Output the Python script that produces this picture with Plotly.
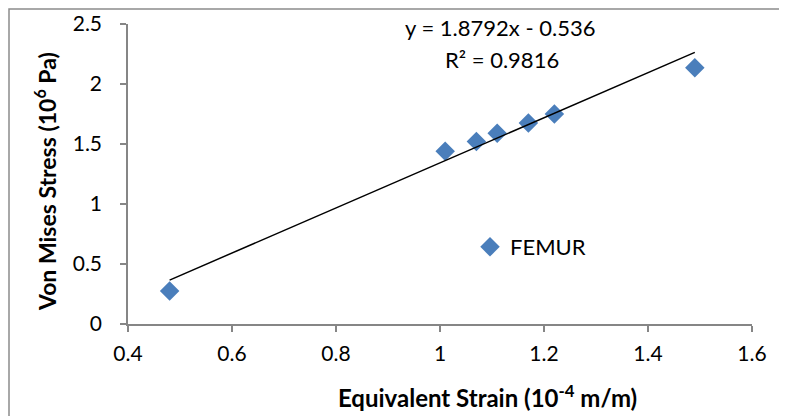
import plotly.graph_objects as go

strain = [0.48, 1.01, 1.07, 1.11, 1.17, 1.22, 1.49]
stress = [0.275, 1.44, 1.52, 1.59, 1.675, 1.75, 2.135]
series_name = "FEMUR"
slope, intercept, r2 = 1.8792, -0.536, 0.9816
x_ticks = [0.4, 0.6, 0.8, 1.0, 1.2, 1.4, 1.6]
y_ticks = [0, 0.5, 1, 1.5, 2, 2.5]

FONT = "Lato"
AX = "#868686"
OFF = 8  # page offset of the plot div
W, H = 787, 416
# plot area in page pixels: x 128..752, y 24..324
L, T = 128 - OFF, 24 - OFF
R, B = W - (752 - OFF), H - (324 - OFF)
PW, PH = W - L - R, H - T - B


def px_x(p):
    return (p - OFF - L) / PW


def px_y(p):
    return (H - B - (p - OFF)) / PH


fit_x = [min(strain), max(strain)]
fit_y = [slope * v + intercept for v in fit_x]

fig = go.Figure()
fig.add_trace(go.Scatter(x=strain, y=stress, mode="markers", name=series_name,
                         marker=dict(symbol="diamond", size=15, color="#4a7ebb",
                                     line=dict(width=0))))
fig.add_trace(go.Scatter(x=fit_x, y=fit_y, mode="lines", showlegend=False,
                         line=dict(color="black", width=1.5), hoverinfo="skip"))

ann = dict(xref="paper", yref="paper", showarrow=False, xanchor="center", yanchor="middle")
fig.add_annotation(x=px_x(500), y=px_y(28), text=f"y = {slope}x - {abs(intercept)}",
                   font=dict(family=FONT, size=22, color="black"), **ann)
fig.add_annotation(x=px_x(502), y=px_y(59), text=f"R² = {r2}",
                   font=dict(family=FONT, size=22, color="black"), **ann)

# axis titles
fig.add_annotation(x=px_x(487), y=px_y(396),
                   text="<b>Equivalent Strain (10<sup>-4</sup> m/m)</b>",
                   font=dict(family=FONT, size=24, color="black"), **ann)
fig.add_annotation(x=px_x(46), y=px_y(182), textangle=-90,
                   text="<b>Von Mises Stress (10<sup>6</sup> Pa)</b>",
                   font=dict(family=FONT, size=23, color="black"), **ann)

fig.add_shape(type="rect", xref="paper", yref="paper",
              x0=px_x(9), x1=px_x(800), y0=px_y(430), y1=px_y(9),
              line=dict(color="#8c8c8c", width=1.5), layer="below")

fig.update_layout(
    width=W, height=H,
    margin=dict(l=L, r=R, t=T, b=B, autoexpand=False),
    paper_bgcolor="white", plot_bgcolor="white",
    font=dict(family=FONT, size=21, color="black"),
    showlegend=True,
    legend=dict(x=px_x(470), y=px_y(247), xanchor="left", yanchor="middle",
                bgcolor="rgba(0,0,0,0)", font=dict(family=FONT, size=22),
                itemwidth=30),
    xaxis=dict(range=[0.4, 1.6], tickvals=x_ticks, ticktext=[f"{v:g}" for v in x_ticks],
               showgrid=False, zeroline=False, showline=True, linecolor=AX, linewidth=1.5,
               ticks="outside", ticklen=6, tickcolor=AX, tickwidth=1.5,
               ticklabelstandoff=4, automargin=False,
               tickfont=dict(family=FONT, size=21)),
    yaxis=dict(range=[0, 2.5], tickvals=y_ticks, ticktext=[f"{v:g}" for v in y_ticks],
               showgrid=False, zeroline=False, showline=True, linecolor=AX, linewidth=1.5,
               ticks="outside", ticklen=6, tickcolor=AX, tickwidth=1.5,
               ticklabelstandoff=14, automargin=False,
               tickfont=dict(family=FONT, size=21)),
)

fig.write_html("out.html")
